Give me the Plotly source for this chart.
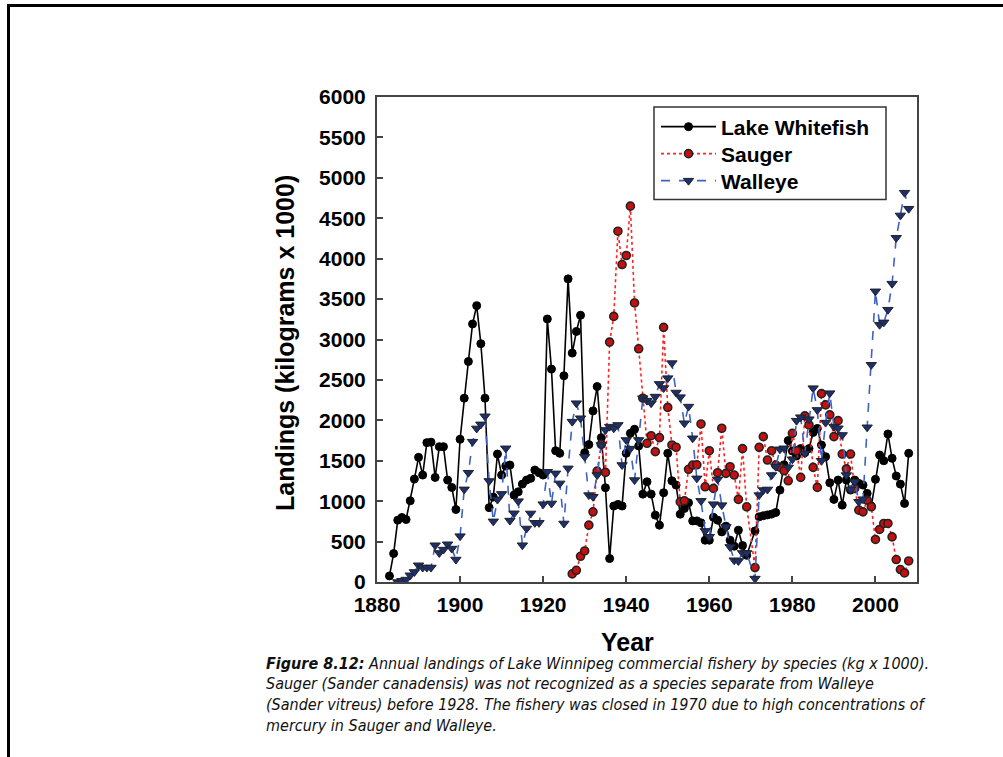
import plotly.graph_objects as go

# ---------------- data (kg x 1000) ----------------
years_whitefish = list(range(1883, 1970)) + list(range(1971, 2009))
whitefish = [
    75, 352, 765, 798, 773, 1005, 1273, 1542, 1323, 1724,            # 1883-1892
    1730, 1294, 1674, 1674, 1261, 1170, 897, 1766, 2274, 2728,      # 1893-1902
    3192, 3419, 2948, 2274, 920, 1050, 1583, 1323, 1435, 1447,      # 1903-1912
    1075, 1116, 1211, 1261, 1282, 1385, 1352, 1323, 3254, 2634,     # 1913-1922
    1624, 1592, 2551, 3750, 2832, 3100, 3300, 1600, 1700, 2117,     # 1923-1932
    2418, 1786, 1166, 290, 940, 960, 940, 1592, 1840, 1890,         # 1933-1942
    1683, 1087, 1240, 1087, 827, 703, 1104, 1592, 1252, 1199,       # 1943-1952
    839, 910, 980, 756, 756, 732, 517, 517, 800, 765,               # 1953-1962
    620, 691, 517, 443, 641, 450, 330,                              # 1963-1969
    632, 806, 820, 830, 840, 860, 1137, 1450, 1750, 1620,           # 1971-1980
    1560, 1650, 1600, 1650, 1850, 1900, 1695, 1550, 1228, 1022,     # 1981-1990
    1261, 951, 1261, 1137, 1261, 1220, 1199, 1096, 939, 1270,       # 1991-2000
    1571, 1500, 1831, 1530, 1311, 1211, 972, 1592,                  # 2001-2008
]

years_sauger = list(range(1927, 1970)) + list(range(1971, 2009))
sauger = [
    100, 145, 318,                                                  # 1927-1929
    384, 703, 868, 1372, 1703, 1356, 2968, 3286, 4340, 3927,        # 1930-1939
    4039, 4650, 3452, 2885, 2274, 1716, 1810, 1612, 1786, 3150,     # 1940-1949
    2160, 1695, 1667, 992, 1004, 1394, 1447, 1450, 1955, 1178,      # 1950-1959
    1624, 1158, 1352, 1902, 1344, 1426, 1323, 1022, 1650, 930,      # 1960-1969
    178, 1666, 1798, 1509, 1624, 1447, 1420, 1376, 1252, 1840,      # 1971-1980
    1624, 1294, 2055, 1943, 1418, 1170, 2330, 2191, 2067, 1798,     # 1981-1990
    1996, 1583, 1400, 1583, 1158, 889, 868, 1013, 930, 526,         # 1991-2000
    650, 724, 724, 558, 278, 154, 112, 260,                         # 2001-2008
]

years_walleye = list(range(1885, 1970)) + list(range(1971, 2009))
walleye = [
    0, 15, 30, 83, 124, 207, 179, 179, 179, 455,                    # 1885-1894
    360, 401, 467, 414, 278, 567, 1146, 1352, 1736, 1900,           # 1895-1904
    1950, 2050, 1250, 750, 1020, 1090, 1654, 760, 850, 1000,        # 1905-1914
    455, 662, 848, 732, 732, 963, 1364, 972, 1344, 1220,            # 1915-1924
    724, 1406, 1984, 2212, 2026, 1550, 1075, 1054, 1323, 1695,      # 1925-1934
    1881, 1922, 1902, 1943, 1447, 1757, 1650, 1261, 1757, 2274,     # 1935-1944
    2244, 2212, 2294, 2451, 2400, 2522, 2708, 2344, 2287, 1964,     # 1945-1954
    2170, 1778, 1282, 1004, 632, 560, 963, 1270, 951, 682,          # 1955-1964
    434, 269, 260, 360, 360,                                        # 1965-1969
    42, 1075, 1137, 1145, 1323, 1426, 1642, 1654, 1418, 1518,       # 1971-1980
    1996, 2039, 1592, 2014, 2398, 2129, 1500, 1972, 2336, 1922,     # 1981-1990
    1902, 1819, 1323, 1146, 1240, 992, 1024, 1914, 2687, 3596,      # 1991-2000
    3183, 3212, 3369, 3691, 4258, 4535, 4816, 4618,                 # 2001-2008
]

x_ticks = [1880, 1900, 1920, 1940, 1960, 1980, 2000]
y_ticks = [0, 500, 1000, 1500, 2000, 2500, 3000, 3500, 4000, 4500, 5000, 5500, 6000]

caption_lines = [
    "<b><i>Figure 8.12:</i></b><i> Annual landings of Lake Winnipeg commercial fishery by species (kg x 1000).</i>",
    "<i>Sauger (Sander canadensis) was not recognized as a species separate from Walleye</i>",
    "<i>(Sander vitreus) before 1928. The fishery was closed in 1970 due to high concentrations of</i>",
    "<i>mercury in Sauger and Walleye.</i>",
]

# ---------------- layout geometry (pixels) ----------------
W, H = 1003, 757
L, R, T, B = 377, 86, 97, 175
PW, PH = W - L - R, H - T - B


def px_x(px):
    return (px - L) / PW


def px_y(py):
    return (H - B - py) / PH


BOLD = "Liberation Sans, Arial, sans-serif"
NARROW = "Liberation Sans Narrow, Arial Narrow, DejaVu Sans Condensed, Liberation Sans, sans-serif"

fig = go.Figure()
fig.add_trace(go.Scatter(
    x=years_whitefish, y=whitefish, name="Lake Whitefish", mode="lines+markers", legend="legend",
    line=dict(color="black", width=1.6),
    marker=dict(symbol="circle", size=8, color="black", line=dict(color="black", width=1)),
))
fig.add_trace(go.Scatter(
    x=years_sauger, y=sauger, name="Sauger", mode="lines+markers", legend="legend2",
    line=dict(color="#ff2020", width=1.6, dash="dot"),
    marker=dict(symbol="circle", size=8, color="#c41010", line=dict(color="#222222", width=1.6)),
))
fig.add_trace(go.Scatter(
    x=years_walleye, y=walleye, name="Walleye", mode="lines+markers", legend="legend3",
    line=dict(color="#3f63c4", width=1.6, dash="dash"),
    marker=dict(symbol="triangle-down", size=9, color="#1c2f6e", line=dict(color="#222222", width=1)),
))

axis_common = dict(
    showline=True, linecolor="#444444", linewidth=2, mirror=True,
    ticks="inside", ticklen=6, tickwidth=1.5, tickcolor="#444444",
    showgrid=False, zeroline=False,
    tickfont=dict(family=BOLD, size=21, color="black", weight="bold"),
)
fig.update_xaxes(range=[1880, 2010], tickvals=x_ticks, ticklabelstandoff=3, **axis_common)
fig.update_yaxes(range=[0, 6000], tickvals=y_ticks, ticklabelstandoff=5, **axis_common)

annotations = [
    dict(x=px_x(285), y=px_y(343), xref="paper", yref="paper", text="Landings (kilograms x 1000)",
         textangle=-90, showarrow=False, xanchor="center", yanchor="middle",
         font=dict(family=BOLD, size=25, color="black", weight="bold")),
    dict(x=px_x(627), y=px_y(642), xref="paper", yref="paper", text="Year",
         showarrow=False, xanchor="center", yanchor="middle",
         font=dict(family=BOLD, size=25, color="black", weight="bold")),
]
for i, line in enumerate(caption_lines):
    annotations.append(dict(
        x=px_x(264), y=px_y(663 + i * 20.8), xref="paper", yref="paper", text=line,
        showarrow=False, xanchor="left", yanchor="middle",
        font=dict(family=NARROW, size=16, color="#111111")))

shapes = [
    # page border (top and left)
    dict(type="line", xref="paper", yref="paper", x0=px_x(7), x1=px_x(1003), y0=px_y(5.5), y1=px_y(5.5),
         line=dict(color="black", width=3)),
    dict(type="line", xref="paper", yref="paper", x0=px_x(8.5), x1=px_x(8.5), y0=px_y(4), y1=px_y(757),
         line=dict(color="black", width=3)),
    # legend frame
    dict(type="rect", xref="paper", yref="paper", x0=px_x(654), x1=px_x(886), y0=px_y(107), y1=px_y(199.5),
         line=dict(color="#333333", width=1.5), fillcolor="rgba(0,0,0,0)"),
]

legend_style = dict(
    xanchor="left", yanchor="middle", bgcolor="rgba(255,255,255,0)", borderwidth=0,
    font=dict(family=BOLD, size=21, color="black", weight="bold"), itemwidth=55,
)

fig.update_layout(
    width=W, height=H, autosize=False,
    margin=dict(l=L, r=R, t=T, b=B, pad=0),
    paper_bgcolor="white", plot_bgcolor="white",
    showlegend=True,
    legend=dict(x=px_x(656), y=px_y(127), **legend_style),
    legend2=dict(x=px_x(656), y=px_y(154), **legend_style),
    legend3=dict(x=px_x(656), y=px_y(181), **legend_style),
    annotations=annotations,
    shapes=shapes,
)

fig.write_html("out.html", config={"displayModeBar": False},
               post_script="document.body.style.margin='0px';")
